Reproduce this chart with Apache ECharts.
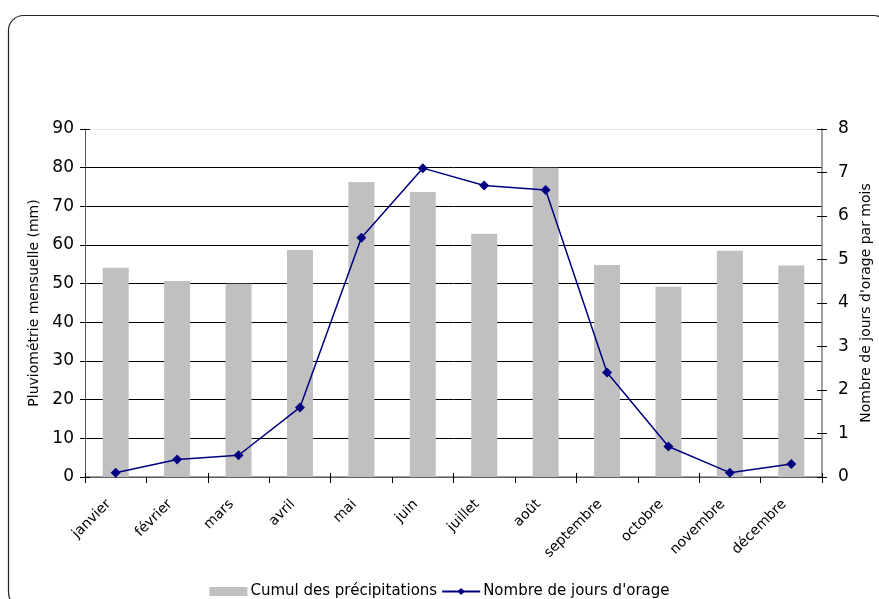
<!DOCTYPE html>
<html>
<head>
<meta charset="utf-8">
<script src="https://cdn.jsdelivr.net/npm/echarts@6/dist/echarts.min.js"></script>
<style>
  html, body { margin: 0; padding: 0; background: #fff; }
  #chart { width: 879px; height: 599px; }
</style>
</head>
<body>
<div id="chart"></div>
<script>
// Monthly rainfall (mm) and number of thunderstorm days
const months = ['janvier', 'février', 'mars', 'avril', 'mai', 'juin', 'juillet', 'août', 'septembre', 'octobre', 'novembre', 'décembre'];
const precipitation = [54.1, 50.7, 50.0, 58.7, 76.3, 73.7, 62.9, 80.0, 54.8, 49.2, 58.5, 54.7];
const stormDays = [0.1, 0.4, 0.5, 1.6, 5.5, 7.1, 6.7, 6.6, 2.4, 0.7, 0.1, 0.3];
const rainTicks = { min: 0, max: 90, interval: 10 };
const stormTicks = { min: 0, max: 8, interval: 1 };

const FONT = 'DejaVu Sans';
const chart = echarts.init(document.getElementById('chart'), null, { renderer: 'canvas' });

// grid lines: dark inside, very faint at the top edge
const gridColors = ['#000', '#000', '#000', '#000', '#000', '#000', '#000', '#000', '#000', '#e8e8e8'];

chart.setOption({
  animation: false,
  backgroundColor: '#fff',
  textStyle: { fontFamily: FONT, color: '#000' },
  graphic: [{
    type: 'rect',
    shape: { x: 8.5, y: 15.5, width: 880, height: 592, r: 15 },
    style: { fill: 'none', stroke: '#222', lineWidth: 1.2 },
    silent: true, z: -1
  }],
  grid: { left: 85, right: 57, top: 129, bottom: 122, containLabel: false, outerBoundsMode: 'none' },
  legend: {
    top: 579,
    left: 'center',
    itemWidth: 38,
    itemHeight: 9,
    itemGap: 4,
    textStyle: { fontFamily: FONT, fontSize: 15, color: '#000', padding: [0, 0, 0, -2] },
    data: [
      { name: 'Cumul des précipitations', icon: 'rect' },
      { name: "Nombre de jours d'orage" }
    ]
  },
  xAxis: [{
    type: 'category',
    data: months,
    boundaryGap: true,
    axisLine: { show: true, lineStyle: { color: '#808080', width: 1.5 } },
    axisTick: { show: true, inside: false, length: 6, lineStyle: { color: '#000' } },
    axisLabel: { rotate: 45, fontFamily: FONT, fontSize: 14, color: '#000', margin: 18, padding: [0, 10, 0, 0] },
    splitLine: { show: false }
  }, {
    type: 'category',
    data: months,
    position: 'bottom',
    boundaryGap: true,
    axisLine: { show: false },
    axisTick: { show: true, inside: true, length: 4, lineStyle: { color: '#000' } },
    axisLabel: { show: false },
    splitLine: { show: false }
  }],
  yAxis: [{
    type: 'value',
    position: 'left',
    min: rainTicks.min, max: rainTicks.max, interval: rainTicks.interval,
    name: 'Pluviométrie mensuelle (mm)',
    nameLocation: 'middle',
    nameGap: 40,
    nameTextStyle: { fontFamily: FONT, fontSize: 14, color: '#000' },
    axisLine: { show: true, lineStyle: { color: '#555', width: 1 } },
    axisTick: { show: true, inside: false, length: 5, lineStyle: { color: '#000' } },
    axisLabel: { fontFamily: FONT, fontSize: 17, color: '#000', margin: 11 },
    splitLine: { show: true, lineStyle: { color: gridColors, width: 1 } }
  }, {
    type: 'value',
    position: 'right',
    min: stormTicks.min, max: stormTicks.max, interval: stormTicks.interval,
    name: "Nombre de jours d'orage par mois",
    nameLocation: 'middle',
    nameGap: 27,
    nameRotate: 90,
    nameTextStyle: { fontFamily: FONT, fontSize: 14, color: '#000' },
    axisLine: { show: true, lineStyle: { color: '#808080', width: 1.5 } },
    axisTick: { show: true, inside: false, length: 5, lineStyle: { color: '#000' } },
    axisLabel: { fontFamily: FONT, fontSize: 17, color: '#000', margin: 16 },
    splitLine: { show: false }
  }, {
    type: 'value',
    position: 'left',
    min: rainTicks.min, max: rainTicks.max, interval: rainTicks.interval,
    axisLine: { show: false },
    axisTick: { show: true, inside: true, length: 5, lineStyle: { color: '#000' } },
    axisLabel: { show: false },
    splitLine: { show: false }
  }, {
    type: 'value',
    position: 'right',
    min: stormTicks.min, max: stormTicks.max, interval: stormTicks.interval,
    axisLine: { show: false },
    axisTick: { show: true, inside: true, length: 5, lineStyle: { color: '#000' } },
    axisLabel: { show: false },
    splitLine: { show: false }
  }],
  series: [{
    name: 'Cumul des précipitations',
    type: 'bar',
    xAxisIndex: 0,
    yAxisIndex: 0,
    data: precipitation,
    barWidth: 26,
    itemStyle: { color: '#c0c0c0' }
  }, {
    name: "Nombre de jours d'orage",
    type: 'line',
    xAxisIndex: 0,
    yAxisIndex: 1,
    data: stormDays,
    symbol: 'diamond',
    symbolSize: 10,
    showSymbol: true,
    lineStyle: { color: '#000080', width: 1.5 },
    itemStyle: { color: '#000080' },
    z: 5
  }]
});
</script>
</body>
</html>
